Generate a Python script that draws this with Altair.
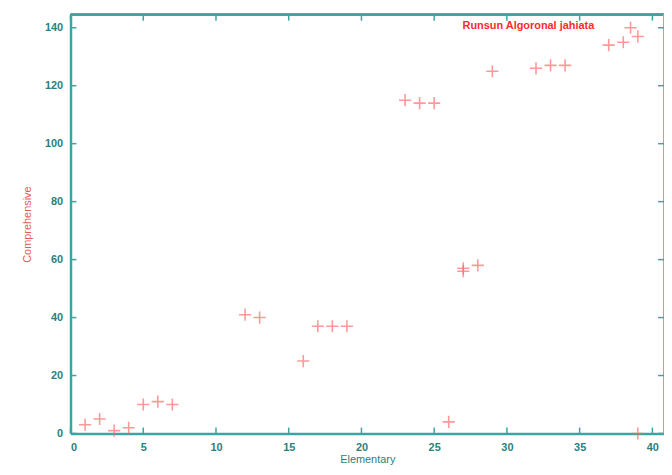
import altair as alt
import pandas as pd

# Data
elementary = [1, 2, 3, 4, 5, 6, 7, 12, 13, 16, 17, 18, 19, 23, 24, 25, 26,
              27, 27, 28, 29, 32, 33, 34, 37, 38, 38.5, 39, 39]
comprehensive = [3, 5, 1, 2, 10, 11, 10, 41, 40, 25, 37, 37, 37, 115, 114, 114, 4,
                 56, 57, 58, 125, 126, 127, 127, 134, 135, 140, 137, 0]
series_name = "Runsun Algoronal jahiata"
x_ticks = [0, 5, 10, 15, 20, 25, 30, 35, 40]
y_ticks = [0, 20, 40, 60, 80, 100, 120, 140]

W, H = 598, 422
TEAL = "#3aa6a2"
LABEL = "#2b7f7c"
RED = "#ff6464"

df = pd.DataFrame({"Elementary": elementary, "Comprehensive": comprehensive,
                   "series": [series_name] * len(elementary)})
xt = pd.DataFrame({"v": x_ticks})
yt = pd.DataFrame({"v": y_ticks})

xs = alt.Scale(domain=[0, 40.8], nice=False, zero=False)
ys = alt.Scale(domain=[0, 144.5], nice=False, zero=False)
xaxis = alt.Axis(values=x_ticks, title="Elementary", titleColor=LABEL)
yaxis = alt.Axis(values=y_ticks, title="Comprehensive", titleColor="#e85a5a")

points = alt.Chart(df).mark_point(
    shape="M-1,0L1,0M0,-1L0,1", size=150, filled=False, strokeWidth=1.6,
    opacity=0.65, clip=False
).encode(
    x=alt.X("Elementary:Q", scale=xs, axis=xaxis),
    y=alt.Y("Comprehensive:Q", scale=ys, axis=yaxis),
    color=alt.Color("series:N", scale=alt.Scale(range=[RED]),
                    legend=alt.Legend(title=None, orient="none", legendX=384, legendY=6,
                                      symbolSize=0, symbolStrokeWidth=0, symbolOpacity=0,
                                      labelOffset=0, padding=0,
                                      labelColor="#ff2a2a", labelFontSize=11,
                                      labelFontWeight="bold", labelFont="Liberation Sans")),
)

top = alt.Chart(xt).mark_rule(color=TEAL, strokeWidth=2).encode(
    x=alt.value(0), x2=alt.value(W), y=alt.value(0))
right = alt.Chart(xt).mark_rule(color="#f08a8a", strokeWidth=2).encode(
    x=alt.value(W), y=alt.value(0), y2=alt.value(H))

bt = alt.Chart(xt).mark_rule(color=TEAL, strokeWidth=1.5).encode(
    x=alt.X("v:Q", scale=xs, axis=xaxis), y=alt.value(H), y2=alt.value(H - 6))
tt = alt.Chart(xt).mark_rule(color=TEAL, strokeWidth=1.5).encode(
    x=alt.X("v:Q", scale=xs, axis=xaxis), y=alt.value(0), y2=alt.value(6))
lt = alt.Chart(yt).mark_rule(color=TEAL, strokeWidth=1.5).encode(
    y=alt.Y("v:Q", scale=ys, axis=yaxis), x=alt.value(0), x2=alt.value(6))
rt = alt.Chart(yt).mark_rule(color=TEAL, strokeWidth=1.5).encode(
    y=alt.Y("v:Q", scale=ys, axis=yaxis), x=alt.value(W), x2=alt.value(W - 6))

chart = alt.layer(points, top, right, bt, tt, lt, rt).properties(
    width=W, height=H,
    autosize=alt.AutoSizeParams(type="none"),
    padding={"left": 63, "top": 5, "right": 0, "bottom": 32},
).configure_view(stroke=None).configure_axis(
    grid=False, tickSize=0, domainColor=TEAL, domainWidth=2.5,
    labelColor=LABEL, labelFont="Liberation Sans", labelFontSize=11, labelFontWeight="bold",
    titleFont="Liberation Sans", titleFontSize=11, titleFontWeight="normal",
).configure_axisX(labelPadding=8, titlePadding=1).configure_axisY(
    labelPadding=8, titlePadding=12)

chart.save("out.html", embed_options={"renderer": "svg", "actions": False})
